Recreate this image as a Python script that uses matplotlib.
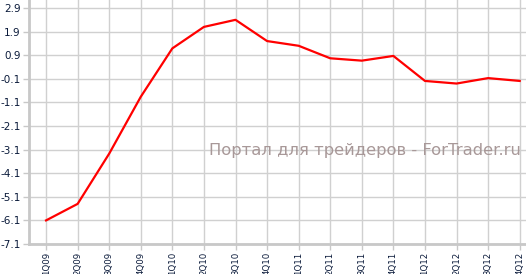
import matplotlib
matplotlib.use("Agg")
import matplotlib.pyplot as plt

quarters = ['1Q09', '2Q09', '3Q09', '4Q09', '1Q10', '2Q10', '3Q10', '4Q10',
            '1Q11', '2Q11', '3Q11', '4Q11', '1Q12', '2Q12', '3Q12', '4Q12']
values = [-6.1, -5.4, -3.27, -0.86, 1.19, 2.1, 2.4, 1.5,
          1.3, 0.77, 0.67, 0.87, -0.19, -0.3, -0.07, -0.19]
yticks = [2.9, 1.9, 0.9, -0.1, -1.1, -2.1, -3.1, -4.1, -5.1, -6.1, -7.1]

fig = plt.figure(figsize=(5.26, 2.74), dpi=100)
ax = fig.add_axes([29 / 526, 30 / 274, 1 - 29 / 526, 1 - 30 / 274])

x = list(range(len(quarters)))
ax.plot(x, values, color='#ff0000', lw=1.6, zorder=3)

ax.set_xlim(-0.54, 15.2)
ax.set_ylim(-7.1, 3.24)
ax.set_xticks(x)
ax.set_xticklabels(quarters, rotation=90)
ax.set_yticks(yticks)
ax.set_yticklabels([str(v) for v in yticks])

ax.grid(True, color='#d0d0d0', lw=1)
ax.set_axisbelow(True)
for s in ['top', 'right']:
    ax.spines[s].set_visible(False)
for s in ['left', 'bottom']:
    ax.spines[s].set_color('#c8c8c8')
    ax.spines[s].set_linewidth(2)
ax.tick_params(axis='both', colors='#c8c8c8', length=4, width=1,
               labelcolor='#0a1a3a', labelsize=7.5, pad=2)
ax.tick_params(axis='x', labelsize=6.2, pad=1.5)

ax.text(0.99, 0.385, 'Портал для трейдеров - ForTrader.ru', transform=ax.transAxes,
        ha='right', va='center', fontsize=11.8, color='#a89898', zorder=4)

fig.savefig('out.png', dpi=100)
